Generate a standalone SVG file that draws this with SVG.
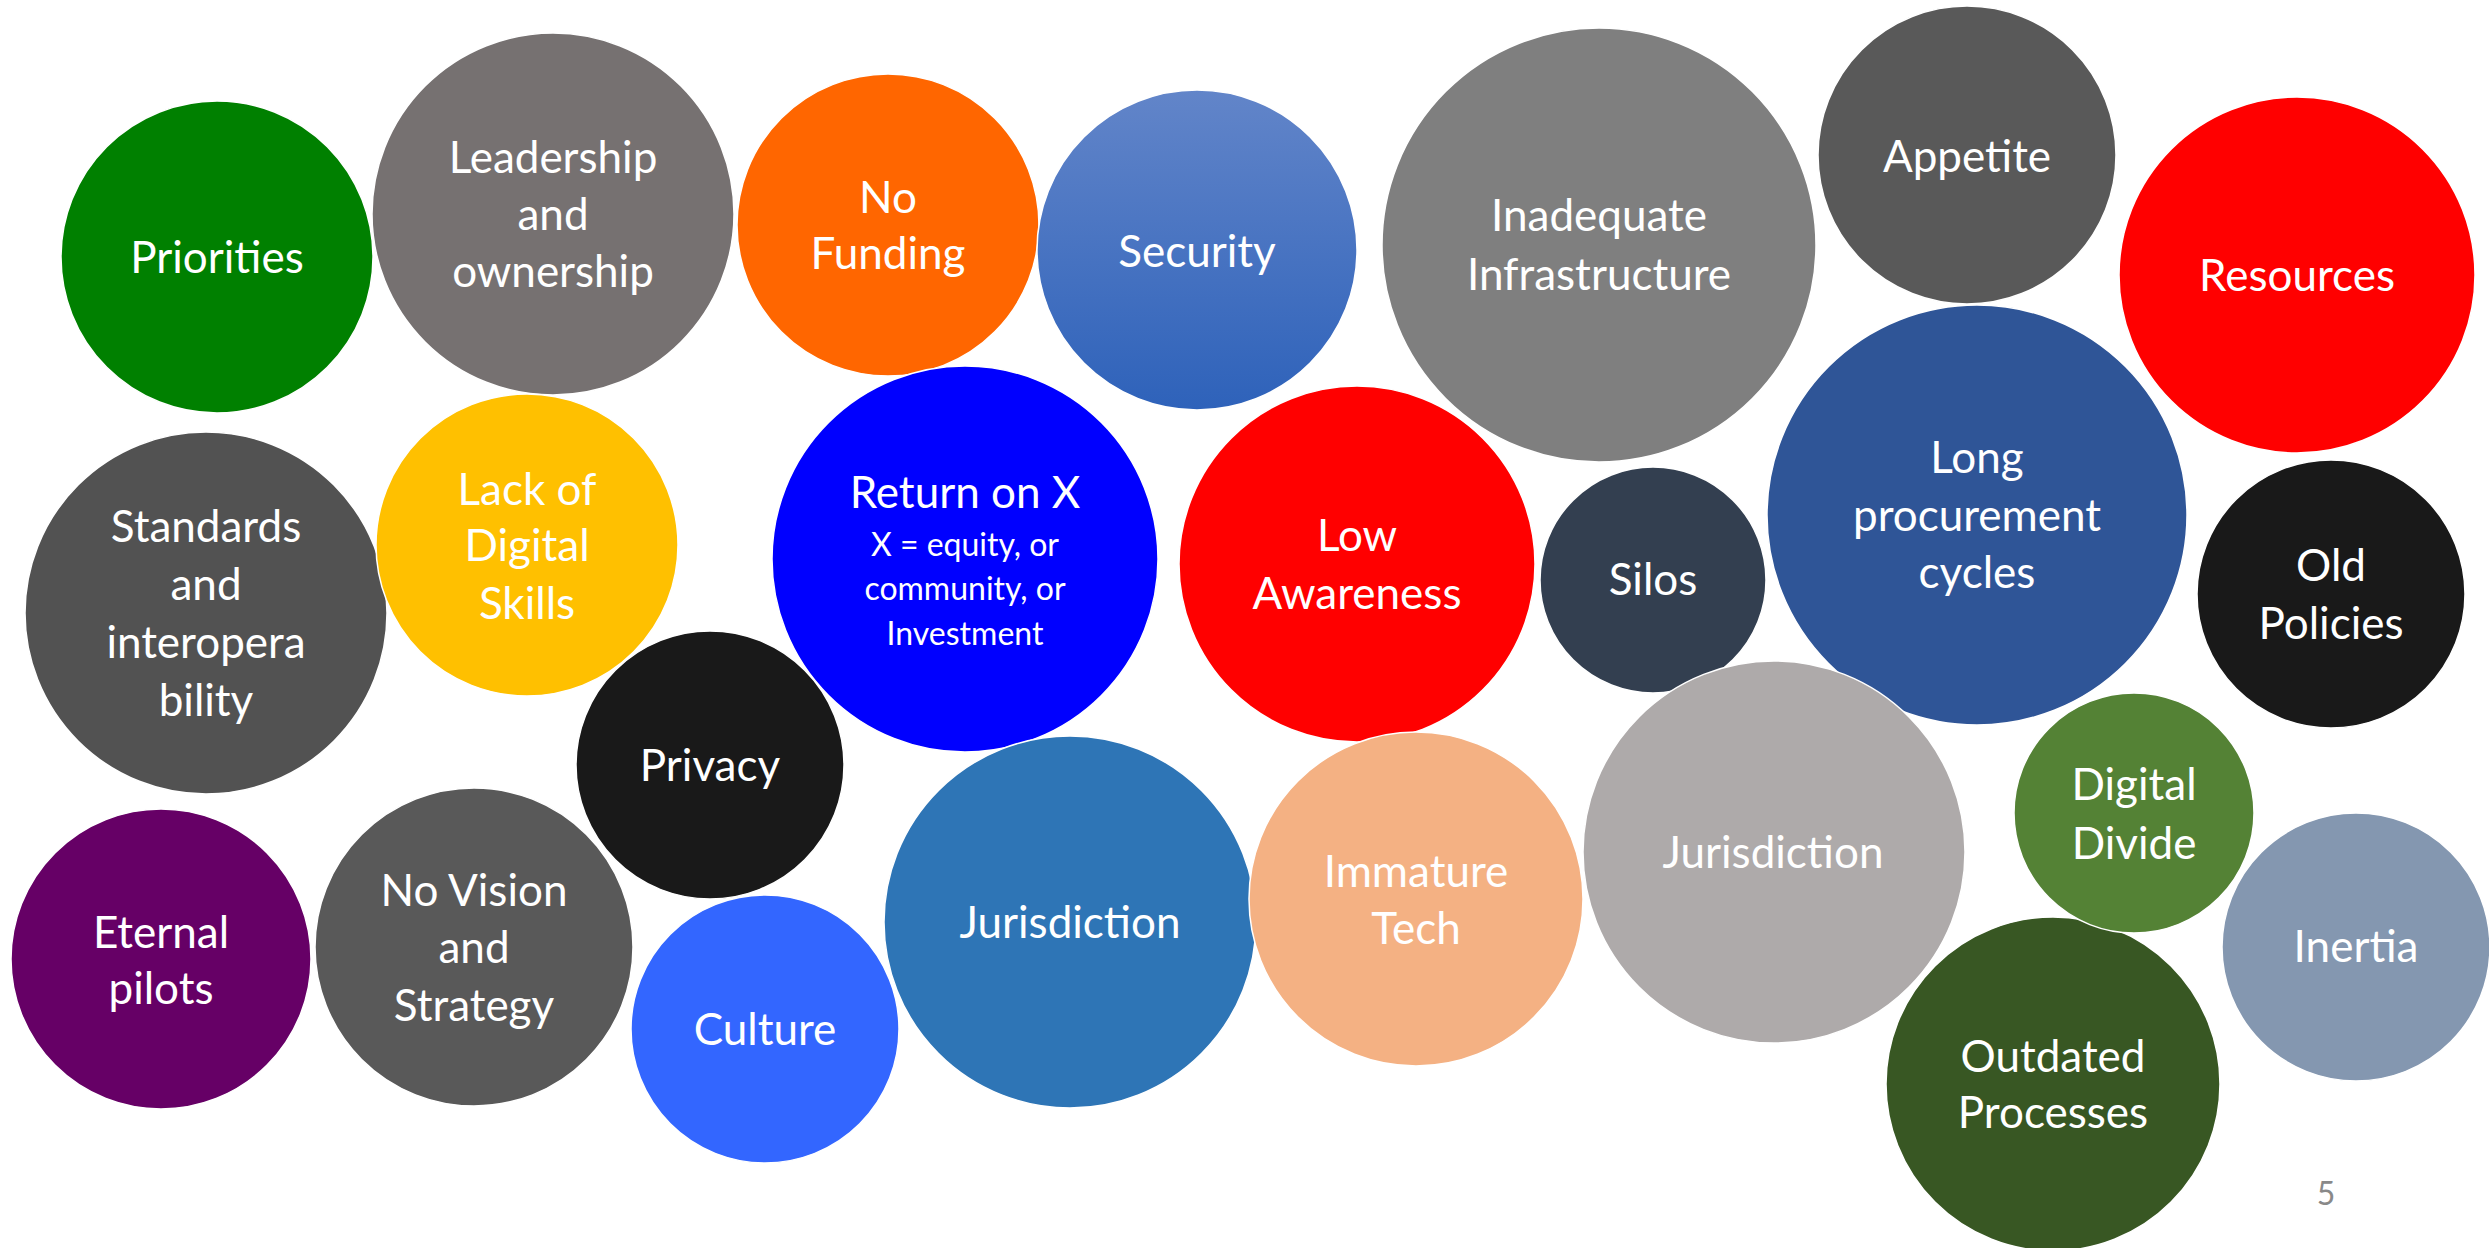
<svg xmlns="http://www.w3.org/2000/svg" width="2489" height="1248" viewBox="0 0 2489 1248">
<defs>
<linearGradient id="gSec" x1="0" y1="0" x2="0" y2="1">
<stop offset="0" stop-color="#6285C9"/>
<stop offset="1" stop-color="#2E62BA"/>
</linearGradient>
</defs>
<style>
circle{stroke:#FFFFFF;stroke-width:1.5}
text{font-family:Lato,"Open Sans","Liberation Sans",sans-serif;fill:#FFFFFF;text-anchor:middle;font-size:44px}
text.s{font-size:32px}
text.pg{fill:#898989;font-size:32px}
</style>
<rect width="2489" height="1248" fill="#FFFFFF"/>
<g id="priorities"><circle cx="217" cy="257" r="156" fill="#008000"/><text x="217" y="273">Priorities</text></g>
<g id="leadership"><circle cx="553" cy="214" r="181" fill="#767171"/><text x="553" y="173">Leadership</text><text x="553" y="230">and</text><text x="553" y="287">ownership</text></g>
<g id="no-funding"><circle cx="888" cy="225" r="151" fill="#FF6600"/><text x="888" y="213">No</text><text x="888" y="269">Funding</text></g>
<g id="security"><circle cx="1197" cy="250" r="160" fill="url(#gSec)"/><text x="1197" y="267">Security</text></g>
<g id="inadequate-infrastructure"><circle cx="1599" cy="245" r="217" fill="#7F7F7F"/><text x="1599" y="231">Inadequate</text><text x="1599" y="290">Infrastructure</text></g>
<g id="appetite"><circle cx="1967" cy="155" r="149" fill="#595959"/><text x="1967" y="172">Appetite</text></g>
<g id="resources"><circle cx="2297" cy="275" r="178" fill="#FF0000"/><text x="2297" y="291">Resources</text></g>
<g id="standards"><circle cx="206" cy="613" r="181" fill="#525252"/><text x="206" y="542">Standards</text><text x="206" y="600">and</text><text x="206" y="658">interopera</text><text x="206" y="716">bility</text></g>
<g id="digital-skills"><circle cx="527" cy="545" r="151" fill="#FFC000"/><text x="527" y="505">Lack of</text><text x="527" y="561">Digital</text><text x="527" y="619">Skills</text></g>
<g id="return-on-x"><circle cx="965" cy="559" r="193" fill="#0000FF"/><text x="965" y="508">Return on X</text><text class="s" x="965" y="556">X = equity, or</text><text class="s" x="965" y="600">community, or</text><text class="s" x="965" y="645">Investment</text></g>
<g id="low-awareness"><circle cx="1357" cy="564" r="178" fill="#FF0000"/><text x="1357" y="551">Low</text><text x="1357" y="609">Awareness</text></g>
<g id="silos"><circle cx="1653" cy="580" r="113" fill="#333F50"/><text x="1653" y="595">Silos</text></g>
<g id="long-procurement"><circle cx="1977" cy="515" r="210" fill="#2F5597"/><text x="1977" y="473">Long</text><text x="1977" y="531">procurement</text><text x="1977" y="588">cycles</text></g>
<g id="old-policies"><circle cx="2331" cy="594" r="134" fill="#191919"/><text x="2331" y="581">Old</text><text x="2331" y="639">Policies</text></g>
<g id="privacy"><circle cx="710" cy="765" r="134" fill="#191919"/><text x="710" y="781">Privacy</text></g>
<g id="eternal-pilots"><circle cx="161" cy="959" r="150" fill="#660066"/><text x="161" y="948">Eternal</text><text x="161" y="1004">pilots</text></g>
<g id="no-vision"><circle cx="474" cy="947" r="159" fill="#595959"/><text x="474" y="906">No Vision</text><text x="474" y="963">and</text><text x="474" y="1021">Strategy</text></g>
<g id="jurisdiction-blue"><circle cx="1070" cy="922" r="186" fill="#2E75B6"/><text x="1070" y="938">Jurisdiction</text></g>
<g id="culture"><circle cx="765" cy="1029" r="134" fill="#3366FF"/><text x="765" y="1045">Culture</text></g>
<g id="immature-tech"><circle cx="1416" cy="899" r="167" fill="#F4B183"/><text x="1416" y="887">Immature</text><text x="1416" y="944">Tech</text></g>
<g id="jurisdiction-gray"><circle cx="1774" cy="852" r="191" fill="#AEAAAA"/><text x="1773" y="868">Jurisdiction</text></g>
<g id="inertia"><circle cx="2356" cy="947" r="134" fill="#8497B0"/><text x="2356" y="962">Inertia</text></g>
<g id="outdated-processes"><circle cx="2053" cy="1084" r="167" fill="#385723"/><text x="2053" y="1072">Outdated</text><text x="2053" y="1128">Processes</text></g>
<g id="digital-divide"><circle cx="2134" cy="813" r="120" fill="#548235"/><text x="2134" y="800">Digital</text><text x="2134" y="859">Divide</text></g>
<g id="connectors"></g>
<text class="pg" x="2326" y="1205">5</text>
</svg>
